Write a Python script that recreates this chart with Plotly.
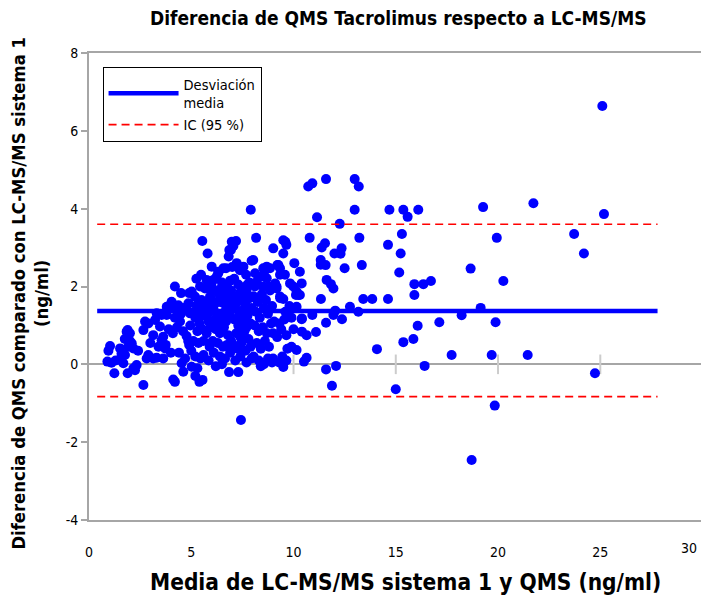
import plotly.graph_objects as go

# ---------------- data ----------------
# x: mean of LC-MS/MS system 1 and QMS (ng/ml); y: difference (ng/ml)
low_x = [0.9, 1.1, 1.03, 1.24, 1.52, 1.59, 1.76, 1.52, 1.68, 1.59, 1.92, 2.17, 2.09, 1.89, 2.0,
         1.89, 2.17, 2.33, 2.25, 2.0, 1.75, 2.4, 1.3, 0.95, 1.84, 2.74, 2.66, 3.14, 2.82, 2.9,
         3.14, 3.31, 2.66, 3.63, 3.72, 3.75, 3.55, 3.63, 3.23, 3.47, 3.55, 3.8, 3.31, 3.8, 3.96,
         3.9, 3.4, 3.0, 2.9, 4.2, 4.5, 4.04, 4.37, 4.69, 4.86, 4.2, 4.3, 4.45, 4.6, 4.1,
         4.77, 4.9, 5.0, 4.85, 4.2, 4.12, 4.53, 4.61, 4.28, 4.78, 4.94, 4.4, 4.7, 4.95, 4.5,
         4.0, 4.9]
low_y = [0.07, 0.04, 0.47, -0.23, 0.41, 0.28, 0.24, 0.11, 0.03, 0.2, 0.45, 0.41, 0.54, 0.88, 0.8,
         -0.23, -0.1, -0.02, -0.15, 0.6, 0.65, 0.35, 0.1, 0.35, 0.84, 1.1, 0.88, 0.75, 0.15, 0.24,
         0.15, 0.17, -0.53, 0.15, 0.41, 0.5, 0.62, 0.71, 1.14, 0.97, 1.27, 1.27, 1.31, 1.48, 1.52,
         0.9, 0.45, 0.55, 1.05, 2.0, 1.83, 1.61, 1.52, 1.44, 1.57, 1.2, 0.95, 1.1, 0.85, 0.8,
         0.73, 0.5, 0.35, 0.6, -0.45, -0.39, 0.03, -0.19, 1.4, 1.48, 1.31, 0.3, 0.15, 1.0, 1.3,
         0.3, 1.83]

mid_x = [5.02, 5.18, 5.92, 5.83, 5.54, 5.8, 6.0, 5.48, 5.75, 5.43, 5.67, 5.27, 5.35, 5.67, 5.2,
         5.4, 5.6, 5.85, 5.3, 5.55, 5.75, 5.95, 5.1, 5.35, 5.6, 5.9, 5.2, 5.45, 5.6, 5.02,
         5.2, 5.4, 5.55, 5.3, 5.85, 5.5, 5.15, 5.7, 5.95, 5.8, 5.25,
         6.0, 6.08, 6.24, 6.41, 6.57, 6.73, 6.08, 6.24, 6.32, 6.7, 6.5, 6.75, 6.9, 6.83, 6.94,
         6.98, 6.86, 6.32, 6.57, 6.1, 6.3, 6.45, 6.6, 6.85, 6.95, 6.15, 6.35, 6.5, 6.7, 6.9,
         6.2, 6.4, 6.6, 6.8, 6.05, 6.3, 6.55, 6.75, 6.95, 6.1, 6.4, 6.65, 6.9, 6.2, 6.5,
         6.85, 6.35, 6.65, 6.95, 6.0,
         7.06, 7.19, 7.22, 7.38, 7.55, 7.22, 7.68, 7.5, 7.7, 7.95, 7.91, 7.1, 7.3, 7.85, 7.05,
         7.25, 7.45, 7.65, 7.85, 7.15, 7.35, 7.55, 7.75, 7.95, 7.1, 7.3, 7.5, 7.7, 7.9, 7.2,
         7.4, 7.6, 7.8, 7.05, 7.25, 7.45, 7.65, 7.9, 7.15, 7.4, 7.7, 7.95, 7.3, 7.43, 7.6,
         7.4, 7.0, 7.75]
mid_y = [1.87, 1.74, 1.74, 1.95, 3.17, 2.85, 2.51, 2.3, 2.17, 2.0, 1.95, 1.52, 1.4, 1.48, 1.2,
         1.05, 1.25, 1.1, 0.85, 0.9, 0.8, 0.95, 0.6, 0.55, 0.6, 0.45, 0.2, 0.15, 0.24, -0.06,
         -0.3, -0.45, -0.4, -0.1, 0.1, 1.65, 1.35, 1.6, 1.4, 1.3, 2.2,
         1.65, 1.48, 1.31, 1.74, 1.57, 1.4, 2.17, 2.25, 2.34, 2.47, 2.1, 2.0, 2.15, 2.77, 2.94,
         3.15, 2.94, 2.38, 2.47, 1.9, 1.85, 1.95, 1.8, 1.7, 1.55, 1.15, 1.05, 1.2, 1.1, 1.25,
         0.9, 0.8, 0.95, 0.75, 0.6, 0.55, 0.45, 0.5, 0.6, 0.3, 0.2, 0.15, 0.3, -0.05, 0.0,
         -0.2, 1.6, 1.35, 1.9, 2.0,
         3.04, 3.17, 2.51, 2.42, 2.51, 2.6, 2.3, 1.95, 1.9, 2.66, 3.97, 2.2, 2.05, 2.1, 1.75,
         1.6, 1.7, 1.55, 1.7, 1.45, 1.3, 1.4, 1.25, 1.45, 1.15, 1.0, 1.1, 0.95, 1.05, 0.8,
         0.7, 0.85, 0.65, 0.5, 0.4, 0.55, 0.35, 0.45, 0.1, 0.2, 0.05, 0.15, -0.2, -1.43, 1.8,
         1.85, 2.5, 2.05]

high_x = [8.17, 8.03, 8.2, 8.11, 8.52, 8.69, 8.12, 8.36, 8.61, 8.85, 8.69, 8.05, 8.25, 8.45, 8.65,
          8.85, 8.15, 8.35, 8.55, 8.75, 8.95, 8.1, 8.3, 8.5, 8.7, 8.9, 8.2, 8.4, 8.6, 8.8,
          8.05, 8.3, 8.55, 8.75, 8.95, 8.4, 8.5, 8.8,
          9.01, 9.5, 9.65, 9.5, 9.26, 9.34, 9.1, 9.17, 9.34, 9.99, 10.15, 10.24, 9.6, 9.21, 9.34,
          9.58, 9.83, 9.17, 10.4, 10.31, 9.35, 9.5, 10.12, 10.15, 9.05, 9.3, 9.55, 10.4, 9.0,
          9.2, 9.4, 9.65, 9.7, 9.9, 10.15, 9.0, 9.3, 9.5, 9.65, 9.45, 10.04, 10.31, 9.6, 9.8,
          9.9, 10.0]
high_y = [3.25, 2.68, 2.12, 2.0, 2.47, 2.51, 2.34, 2.25, 2.42, 2.47, 2.21, 1.75, 1.6, 1.8, 1.65,
          1.9, 1.35, 1.2, 1.45, 1.3, 1.5, 1.0, 0.85, 0.95, 0.8, 1.05, 0.55, 0.4, 0.6, 0.45,
          0.2, 0.1, 0.0, 0.15, 0.05, -0.05, 2.0, 2.0,
          2.98, 3.19, 3.07, 2.85, 2.55, 2.47, 2.08, 1.95, 1.74, 2.0, 1.87, 1.78, 3.15, 2.55, 2.3,
          2.3, 2.08, 2.0, 2.08, 1.78, 1.7, 1.68, 1.78, 1.48, 1.1, 1.05, 1.15, 1.16, 0.8,
          0.7, 0.9, 0.75, 0.4, 0.45, 0.37, 0.15, 0.05, -0.07, 0.1, 0.2, 2.6, 2.38, 1.35, 1.5,
          1.2, 0.9]

spread_x = [10.72, 10.92, 11.59, 12.99, 13.19, 11.15, 12.26, 12.99, 14.69, 15.37, 15.58, 16.1,
            10.79, 13.22, 15.3, 11.38, 11.54, 12.0, 12.35, 12.3, 14.62, 15.24, 11.33, 11.33,
            11.57, 12.5, 13.34, 15.17, 11.62, 11.83, 11.95, 15.91, 13.41, 13.85, 14.62, 11.34,
            15.91, 12.76, 13.17, 12.04, 12.37, 11.95, 11.59, 10.92, 10.41, 16.07, 11.1, 10.41,
            10.64, 15.86, 15.37, 14.08, 10.51, 10.64, 11.59, 12.08, 11.88, 15.0,
            19.27, 21.73, 25.18, 25.1, 23.72, 19.94, 24.2, 18.66, 16.35, 16.72, 20.26, 19.15,
            18.22, 17.13, 19.88, 17.73, 19.69, 21.45, 16.41, 24.74, 19.84, 18.71]
spread_y = [4.57, 4.65, 4.76, 4.76, 4.57, 3.78, 3.61, 3.97, 3.97, 3.97, 3.79, 3.97,
            3.25, 3.25, 3.35, 3.0, 3.11, 2.85, 2.98, 2.84, 3.07, 2.85, 2.68, 2.56,
            2.55, 2.47, 2.55, 2.36, 2.17, 2.06, 1.95, 2.06, 1.68, 1.68, 1.68, 1.68,
            1.78, 1.48, 1.35, 1.38, 1.16, 1.27, 1.07, 1.27, 1.18, 0.99, 0.83, 0.84,
            0.75, 0.65, 0.57, 0.39, 0.07, 0.17, -0.13, -0.04, -0.55, -0.64,
            4.04, 4.14, 3.86, 6.64, 3.35, 3.25, 2.85, 2.46, 2.06, 2.14, 2.14, 1.45,
            1.26, 1.08, 1.08, 0.24, 0.24, 0.24, -0.04, -0.23, -1.06, -2.46]

bias = 1.37
upper_limit = 3.6
lower_limit = -0.83
line_span = [0.4, 27.8]

x_ticks = [0, 5, 10, 15, 20, 25, 30]
y_ticks = [-4, -2, 0, 2, 4, 6, 8]
y_tick_text = ["-4", "-2", "0", "2", "4", "6", "8"]

title_text = "Diferencia de QMS Tacrolimus respecto a LC-MS/MS"
x_title = "Media de LC-MS/MS sistema 1 y QMS (ng/ml)"
y_title = "Diferencia de QMS comparado con LC-MS/MS sistema 1<br>(ng/ml)"
legend_mean = "Desviación<br>media"
legend_ci = "IC (95 %)"

# ---------------- figure ----------------
FONT = "DejaVu Sans Condensed, Liberation Sans Narrow, sans-serif"
GRAY = "#a6a6a6"

all_x = low_x + mid_x + high_x + spread_x
all_y = low_y + mid_y + high_y + spread_y

fig = go.Figure()

# tick marks sitting on the zero line
inner_ticks = [t for t in x_ticks if 0 < t < 30]
fig.add_trace(go.Scatter(
    x=inner_ticks, y=[0] * len(inner_ticks), mode="markers",
    marker=dict(symbol="line-ns", size=14, line=dict(color="#cccccc", width=2)),
    showlegend=False, hoverinfo="skip"))

fig.add_trace(go.Scatter(
    x=all_x, y=all_y, mode="markers",
    marker=dict(color="#0000ff", size=10, line=dict(width=0)),
    showlegend=False))

fig.add_trace(go.Scatter(
    x=line_span, y=[bias, bias], mode="lines",
    line=dict(color="#0000ff", width=4.5), name=legend_mean))

fig.add_trace(go.Scatter(
    x=line_span, y=[upper_limit, upper_limit], mode="lines",
    line=dict(color="#ff0000", width=1.6, dash="8px,5px"), name=legend_ci))
fig.add_trace(go.Scatter(
    x=line_span, y=[lower_limit, lower_limit], mode="lines",
    line=dict(color="#ff0000", width=1.6, dash="8px,5px"), showlegend=False))

# the page body has an 8px margin; the figure is sized so the page does not overflow
fig.update_layout(
    width=701, height=594,
    margin=dict(l=81, r=4, t=45, b=82, autoexpand=False),
    paper_bgcolor="white", plot_bgcolor="white",
    font=dict(family=FONT, color="black", size=14),
    title=dict(text="<b>" + title_text + "</b>", x=0.502, xref="paper", xanchor="center",
               y=0.9832, yref="container", yanchor="middle",
               font=dict(family=FONT, size=19, color="black")),
    showlegend=True,
    legend=dict(x=0.022, y=0.97, xanchor="left", yanchor="top",
                bordercolor="black", borderwidth=1, bgcolor="white",
                font=dict(family=FONT, size=14.5, color="black"),
                tracegroupgap=0, itemwidth=70),
    annotations=[
        dict(text="<b>" + x_title + "</b>", xref="paper", yref="paper",
             x=0.513, y=-0.133, xanchor="center", yanchor="middle", showarrow=False,
             font=dict(family=FONT, size=22.5, color="black")),
        dict(text="<b>" + y_title + "</b>", xref="paper", yref="paper",
             x=-0.0965, y=0.486, xanchor="center", yanchor="middle", showarrow=False,
             textangle=-90, font=dict(family=FONT, size=18.3, color="black")),
        # last x tick label, right-aligned so it stays inside the window
        dict(text=str(x_ticks[-1]), xref="x", yref="paper",
             x=x_ticks[-1], y=0, xanchor="right", yanchor="middle",
             xshift=-4, yshift=-28, showarrow=False,
             font=dict(family=FONT, size=14, color="black")),
    ],
)

fig.update_xaxes(
    range=[0, 30.12], tickmode="array", tickvals=x_ticks[:-1],
    ticks="", showgrid=False, zeroline=False, automargin=False,
    showline=True, linecolor=GRAY, linewidth=2, mirror=True,
    ticklabelstandoff=18,
    tickfont=dict(family=FONT, size=14),
)
fig.update_yaxes(
    range=[-4, 8], tickmode="array", tickvals=y_ticks, ticktext=y_tick_text,
    ticks="outside", ticklen=6, tickwidth=2, tickcolor=GRAY, automargin=False,
    showgrid=False, zeroline=True, zerolinecolor=GRAY, zerolinewidth=2,
    showline=True, linecolor=GRAY, linewidth=2, mirror=True,
    tickfont=dict(family=FONT, size=14),
)

fig.write_html("out.html")
